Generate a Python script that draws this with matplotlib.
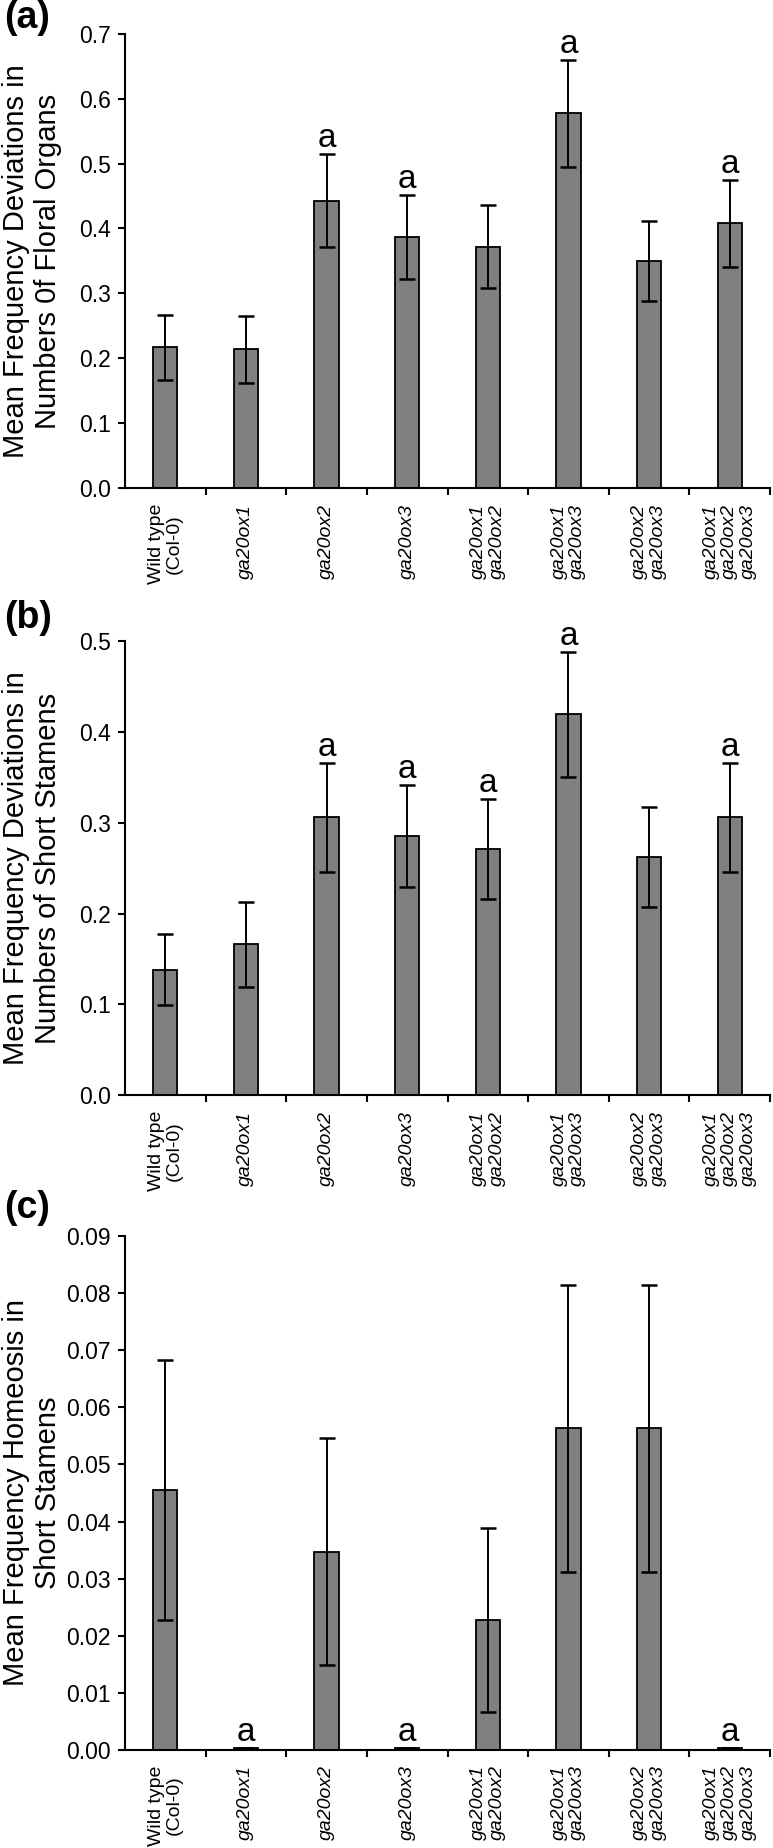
import numpy as np
import matplotlib
matplotlib.use('Agg')
import matplotlib.pyplot as plt

plt.rcParams['font.family'] = ['Liberation Sans', 'DejaVu Sans']

categories = ['Wild type\n(Col-0)', 'ga20ox1', 'ga20ox2', 'ga20ox3',
              'ga20ox1\nga20ox2', 'ga20ox1\nga20ox3', 'ga20ox2\nga20ox3',
              'ga20ox1\nga20ox2\nga20ox3']

# (a) deviations in numbers of floral organs
organ_mean = [0.217, 0.214, 0.443, 0.387, 0.372, 0.577, 0.350, 0.408]
organ_err = [0.050, 0.052, 0.071, 0.065, 0.064, 0.082, 0.062, 0.067]
organ_sig = [2, 3, 5, 7]

# (b) deviations in numbers of short stamens
stamen_mean = [0.138, 0.166, 0.306, 0.285, 0.271, 0.419, 0.262, 0.306]
stamen_err = [0.039, 0.047, 0.060, 0.056, 0.055, 0.069, 0.055, 0.060]
stamen_sig = [2, 3, 4, 5, 7]

# (c) homeosis in short stamens
homeo_mean = [0.0455, 0.0003, 0.0347, 0.0003, 0.0227, 0.0563, 0.0563, 0.0003]
homeo_err = [0.0228, 0.0, 0.0199, 0.0, 0.0161, 0.0252, 0.0252, 0.0]
homeo_sig = [1, 3, 7]

W, H = 773, 1848
fig = plt.figure(figsize=(W / 100, H / 100), dpi=100)

panels = [
    ('(a)', organ_mean, organ_err, organ_sig, 0.7, 0.1, '%.1f',
     'Mean Frequency Deviations in\nNumbers 0f Floral Organs', 33.6, 488.3, 0),
    ('(b)', stamen_mean, stamen_err, stamen_sig, 0.5, 0.1, '%.1f',
     'Mean Frequency Deviations in\nNumbers of Short Stamens', 640.7, 1095.4, 600),
    ('(c)', homeo_mean, homeo_err, homeo_sig, 0.09, 0.01, '%.2f',
     'Mean Frequency Homeosis in\nShort Stamens', 1236, 1750, 1190),
]

x = np.arange(len(categories))
for tag, mean, err, sig, ymax, step, fmt, ylabel, top, bot, tagy in panels:
    ax = fig.add_axes([125 / W, 1 - bot / H, 645 / W, (bot - top) / H])
    ax.bar(x, mean, width=0.3, color='#808080', edgecolor='black', linewidth=1.3, zorder=2)
    ax.errorbar(x, mean, yerr=err, fmt='none', ecolor='black', elinewidth=1.4,
                capsize=6, capthick=1.8, zorder=3)
    for i in sig:
        ax.annotate('a', (x[i], mean[i] + err[i]), xytext=(0, 5), textcoords='offset points',
                    ha='center', va='baseline', fontsize=24)
    ax.set_xlim(-0.5, 7.5)
    ax.set_ylim(0, ymax)
    ax.set_yticks(np.arange(0, ymax + step / 2, step))
    ax.yaxis.set_major_formatter(matplotlib.ticker.FormatStrFormatter(fmt))
    ax.set_xticks(x + 0.5)
    ax.set_xticklabels([])
    ax.set_xticks(x, minor=True)
    ax.set_xticklabels(categories, minor=True, rotation=90, fontsize=14,
                       ha='center', va='top', linespacing=1.1)
    for i, lab in enumerate(ax.get_xticklabels(minor=True)):
        if i > 0:
            lab.set_style('italic')
    ax.tick_params(axis='x', which='minor', length=0, pad=11)
    ax.tick_params(axis='both', which='major', direction='out', length=5, width=1.5,
                   labelsize=16.5)
    ax.tick_params(axis='y', pad=5)
    for s in ['top', 'right']:
        ax.spines[s].set_visible(False)
    for s in ['left', 'bottom']:
        ax.spines[s].set_linewidth(1.5)
    fig.text(32 / W, 1 - (top + bot) / 2 / H, ylabel, rotation=90, ha='center',
             va='center', fontsize=21)
    fig.text(4 / W, 1 - tagy / H, tag, ha='left', va='top', fontsize=27, fontweight='bold')

fig.savefig('out.png', dpi=100)
